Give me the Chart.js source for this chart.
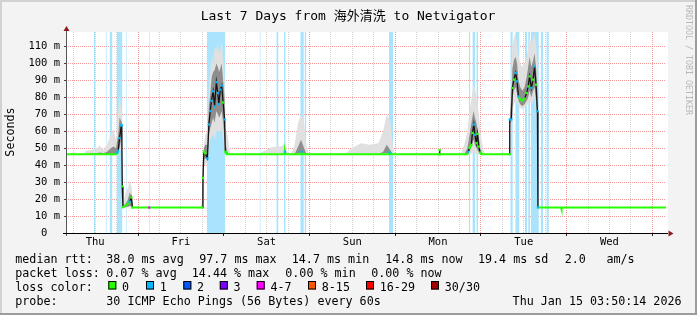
<!DOCTYPE html>
<html><head><meta charset="utf-8">
<script src="https://cdn.jsdelivr.net/npm/chart.js@4/dist/chart.umd.min.js"></script>
<style>html,body{margin:0;padding:0;background:#f3f3f3;}canvas{display:block}</style>
</head><body>
<canvas id="c" width="697" height="315"></canvas>
<script>
// ---------- DATA (hours since Thu 03:50, values in ms) ----------
const dayNames = ['Thu','Fri','Sat','Sun','Mon','Tue','Wed'];
const dayNoonHours = [8.1667, 32.1667, 56.1667, 80.1667, 104.1667, 128.1667, 152.1667];
const midnightHours = [20.1667, 44.1667, 68.1667, 92.1667, 116.1667, 140.1667, 164.1667];
const yTickLabels = ['0  ','10 m','20 m','30 m','40 m','50 m','60 m','70 m','80 m','90 m','100 m','110 m'];
const yLabelValues = [0,10,20,30,40,50,60,70,80,90,100,110];

const medianHours  = [0,14.1,14.4,14.6,15.0,15.5,15.6,15.75,15.95,16.9,17.4,17.8,18.3,18.6,23.2,23.3,23.45,38.2,38.35,38.6,39.0,39.6,40.0,40.4,40.7,41.2,41.6,42.1,42.5,42.8,43.2,43.6,44.0,44.4,44.6,44.9,61.2,61.3,61.45,65.8,65.9,66.0,90.4,90.6,90.8,104.5,104.6,104.7,112.4,112.6,113.0,113.5,113.8,114.2,114.5,114.9,115.2,115.6,115.9,116.3,124.2,124.25,124.7,125.0,125.4,125.9,126.3,126.7,127.2,127.8,128.4,129.0,129.4,129.8,130.3,130.8,131.2,131.6,132.0,132.15,132.6,138.6,138.7,138.8,168];
const medianValues = [46.5,46.5,47.4,48.6,56,63.5,63.5,27.5,15.2,16.5,17.5,18.5,21,15,15,15,15,15,32.5,48,47,44,64,72,78,83.6,74.7,89,82.6,76,84.6,87,77,67,48,46.5,46.5,48,46.5,46.5,48,46.5,46.5,47.5,46.5,46.5,49,46.5,46.5,47.8,50.2,52,59,64,58,53,58.5,51,47.5,46.5,46.5,67,67,85.6,90.5,94.4,89.5,80.6,78.7,78,79.3,82.6,86.5,92.4,85.6,90.5,98.3,87.5,71.8,15.1,15,15,14,15,15];
const medianLoss   = [0,0,1,1,1,1,1,0,0,0,0,1,0,0,0,4,0,0,0,0,0,1,1,1,1,1,1,1,1,1,1,1,0,1,0,0,0,1,0,0,1,0,0,1,0,0,0,0,0,1,0,0,0,1,1,0,0,0,0,0,0,1,1,0,0,1,1,1,0,0,0,0,0,0,1,0,1,0,1,1,0,0,0,0,0];

const smokeHours   = [0,5.0,5.5,7.0,8.5,9.5,10.5,11.5,12.5,13.3,14.0,14.6,15.0,15.5,15.75,15.8,16.5,17.2,17.9,18.4,18.8,19.5,38.0,38.3,38.6,39.0,39.6,40.0,40.4,40.8,41.2,41.6,42.1,42.5,42.9,43.3,43.6,44.0,44.4,44.7,45.2,45.6,46.0,54.0,55.0,57.0,58.5,60.0,61.0,62.0,63.0,64.0,65.0,65.8,66.5,67.3,68.0,78.0,80.0,82.5,85.0,87.5,88.8,89.8,90.8,91.5,92.0,110.5,111.5,112.4,113.0,113.6,114.1,114.5,115.0,115.5,116.0,116.6,117.2,124.1,124.3,124.7,125.0,125.4,125.9,126.3,126.7,127.2,127.8,128.4,129.0,129.4,129.8,130.3,130.8,131.2,131.6,132.0,132.15,133.0,139.0,168];
const smokeOuterLo = [46.5,46.5,46.5,46.5,46.5,46.5,46.5,46.5,46,46,46,46,47,50,50,15,15,15,15,15,15,15,15,15,40,40,42,52,55,57,58,55,60,60,60,60,62,55,48,46.5,46.5,46.5,46.5,46.5,46.5,46.5,46.5,46.5,46.5,46.5,46.5,46.5,46.5,46.5,46.5,46.5,46.5,46.5,46.5,46.5,46.5,46.5,46.5,46.5,46.5,46.5,46.5,46.5,46.5,46.5,46,47,48,47,46.5,46.5,46.5,46.5,46.5,46.5,60,64,72,76,78,77,75,74,73,74,75,76,78,76,78,80,72,62,15,15,14.5,15];
const smokeOuterHi = [46.5,46.5,48.5,49,50,51.5,49,52,58,61,55,70,81,74,70,16,22,26,31,27,16,15,15,36,52,58,60,85,95,105,100,110,108,112,105,110,113,102,90,62,58,52,46.5,46.5,48,50,51,51,52,48,46.5,52,65,69.5,68,52,46.5,46.5,50,53,52,53,60,70,66,52,46.5,46.5,52,60,72,80,88,85,80,72,60,52,46.5,46.5,75,95,110,115,118,112,104,100,98,100,104,110,115,112,115,118,112,100,16,15,15,15];
const smokeInnerLo = [46.5,46.5,46.5,46.5,46.5,46.5,46.5,46.5,46.5,46.5,46.5,47,50,56,55,15,15,15.5,16,16,15,15,15,15,44,44,44,58,62,65,68,65,72,70,68,70,72,65,55,47,46.5,46.5,46.5,46.5,46.5,46.5,46.5,46.5,47,46.5,46.5,46.5,47,47,47,46.5,46.5,46.5,46.5,46.5,46.5,46.5,47,47,47,46.5,46.5,46.5,46.5,46.5,48,52,55,52,50,48,46.5,46.5,46.5,46.5,64,66,80,84,86,82,78,76,75,76,78,80,84,80,84,86,78,66,15,15,15,15];
const smokeInnerHi = [46.5,46.5,46.5,47,47,47.5,47,48,50,51,50,58,68,66,64,15,17,19,24,21,15,15,15,30,50,52,52,75,82,92,95,96,100,98,95,98,100,90,80,52,48,46.5,46.5,46.5,46.5,46.5,46.5,46.5,47.5,46.5,46.5,46.5,51,55,51,46.5,46.5,46.5,46.5,46.5,46.5,46.5,48,52,49,46.5,46.5,46.5,46.5,50,58,66,72,68,64,58,50,46.5,46.5,46.5,70,80,97,102,104,100,90,86,84,86,92,98,104,98,102,106,98,85,15,15,15,15];

const lossStart = [7.8,11.1,12.2,14.2,16.7,23.2,23.4,39.4,54.2,58.9,61.0,65.6,66.8,90.4,112.8,113.8,114.9,124.4,125.8,128.5,129.4,130.2,132.9,134.5];
const lossEnd   = [8.2,11.4,13.0,15.8,17.0,23.4,23.6,44.6,54.5,59.5,61.5,66.6,67.3,91.6,113.2,114.6,115.4,125.1,127.0,129.1,130.0,132.4,133.6,135.2];
const lossLevel = [1,1,1,1,1,4,1,1,1,1,1,1,1,1,1,1,1,1,1,1,1,1,1,1];

const lossColorNames = ['0','1','2','3','4-7','8-15','16-29','30/30'];
const lossColors = ['#26ff00','#00b8ff','#0059ff','#7e00ff','#ff00ff','#ff5500','#ff0000','#a10000'];
const lossBandColors = {1:'rgb(170,228,252)', 4:'rgb(236,186,246)'};

const titleText = 'Last 7 Days from 海外清洗 to Netvigator';
const statRtt  = ['median rtt:','38.0 ms avg','97.7 ms max','14.7 ms min','14.8 ms now','19.4 ms sd','2.0','am/s'];
const statLoss = ['packet loss:','0.07 % avg','14.44 % max','0.00 % min','0.00 % now'];
const probeText = ['probe:','30 ICMP Echo Pings (56 Bytes) every 60s','Thu Jan 15 03:50:14 2026'];

// ---------- layout / style ----------
const MONO = "'DejaVu Sans Mono', 'Noto Sans CJK SC', monospace";
const Y_MAX = 118.6;
const rttX  = [15.3,106.3,199.2,291.8,385.2,478,564.8,606.5];
const lossX = [15.3,106.3,191.8,285.3,371.2];
const boxX  = [108.3,146,183.3,219.8,256.7,308,366,431];
const gridHours = []; for (let h = 2.1667; h < 168; h += 6) gridHours.push(h);
const yGrid = []; for (let v = 0; v <= 115; v += 5) yGrid.push(v);
const isMidnight = v => midnightHours.some(m => Math.abs(m - v) < 0.01);

const pts = (xs, ys) => xs.map((x, i) => ({x, y: ys[i]}));
function bandPoints(level) {
  const out = [];
  lossStart.forEach((s, i) => {
    if (lossLevel[i] !== level) return;
    out.push({x: s, y: Y_MAX}, {x: lossEnd[i], y: Y_MAX}, {x: lossEnd[i], y: null});
  });
  return out;
}
const steep = (a, b) => Math.abs(a - b) > 2.2;

const bgPlugin = {
  id: 'bg',
  beforeDraw(chart) {
    const c = chart.ctx, a = chart.chartArea;
    c.save();
    c.fillStyle = '#f3f3f3'; c.fillRect(0, 0, chart.width, chart.height);
    c.fillStyle = '#ffffff'; c.fillRect(a.left, a.top, a.right - a.left + 2, a.bottom - a.top);
    c.restore();
  },
  afterDraw(chart) {
    const c = chart.ctx, a = chart.chartArea;
    c.save();
    c.strokeStyle = '#555'; c.lineWidth = 1;
    c.beginPath(); c.moveTo(a.left + 0.5, a.bottom + 3); c.lineTo(a.left + 0.5, a.top - 1); c.stroke();
    c.strokeStyle = '#000';
    c.beginPath(); c.moveTo(a.left - 3, a.bottom + 0.5); c.lineTo(a.right + 2, a.bottom + 0.5); c.stroke();
    c.fillStyle = '#8b1a1a';
    c.beginPath(); c.moveTo(a.left + 0.5, a.top - 6); c.lineTo(a.left - 2.5, a.top - 1); c.lineTo(a.left + 3.5, a.top - 1); c.closePath(); c.fill();
    c.beginPath(); c.moveTo(a.right + 7.5, a.bottom + 0.5); c.lineTo(a.right + 2.5, a.bottom - 2.5); c.lineTo(a.right + 2.5, a.bottom + 3.5); c.closePath(); c.fill();
    c.fillStyle = '#000';
    c.font = '13px ' + MONO; c.textAlign = 'center'; c.textBaseline = 'alphabetic';
    c.fillText(titleText, 348, 20);
    c.save(); c.translate(10.5, 132); c.rotate(-Math.PI / 2);
    c.font = '11.7px ' + MONO; c.textBaseline = 'middle'; c.fillText('Seconds', 0, 0); c.restore();
    c.save(); c.translate(688, 5); c.rotate(Math.PI / 2);
    c.font = '8.3px ' + MONO; c.fillStyle = '#b8b8b8'; c.textAlign = 'left'; c.textBaseline = 'middle';
    c.fillText('RRDTOOL / TOBI OETIKER', 0, 0); c.restore();
    c.font = '11.7px ' + MONO; c.textAlign = 'left'; c.textBaseline = 'alphabetic'; c.fillStyle = '#000';
    statRtt.forEach((t, i) => c.fillText(t, rttX[i], 262.7));
    statLoss.forEach((t, i) => c.fillText(t, lossX[i], 276.7));
    c.fillText('loss color:', 15.3, 290.7);
    lossColorNames.forEach((t, i) => {
      c.fillStyle = lossColors[i]; c.fillRect(boxX[i], 281.5, 8, 8);
      c.strokeStyle = '#000'; c.lineWidth = 1; c.strokeRect(boxX[i] + 0.5, 281.5, 7, 7.5);
      c.fillStyle = '#000'; c.fillText(t, boxX[i] + 13.8, 290.7);
    });
    c.fillText(probeText[0], 15.3, 304.7);
    c.fillText(probeText[1], 106.3, 304.7);
    c.textAlign = 'right'; c.fillText(probeText[2], 681.5, 304.7);
    c.fillStyle = '#d2d2d2'; c.fillRect(0, 0, chart.width, 2); c.fillRect(0, 0, 2, chart.height);
    c.fillStyle = '#9c9c9c'; c.fillRect(0, chart.height - 2, chart.width, 2); c.fillRect(chart.width - 2, 0, 2, chart.height);
    c.restore();
  }
};

new Chart(document.getElementById('c'), {
  type: 'line',
  data: {
    datasets: [
      {
        data: pts(medianHours, medianValues),
        borderColor: '#26ff00', borderWidth: 2, fill: false,
        segment: {
          borderColor: s => steep(s.p0.parsed.y, s.p1.parsed.y) ? '#141414' : lossColors[Math.min(medianLoss[s.p0DataIndex], medianLoss[s.p1DataIndex])],
          borderWidth: s => steep(s.p0.parsed.y, s.p1.parsed.y) ? 1.3 : 2
        },
        pointStyle: 'rect',
        pointRadius: c => {
          const i = c.dataIndex, v = medianValues;
          const sp = (i > 0 && steep(v[i], v[i - 1])) || (i < v.length - 1 && steep(v[i], v[i + 1]));
          return (medianLoss[i] > 0 || sp) ? 1.6 : 0;
        },
        pointBackgroundColor: c => lossColors[medianLoss[c.dataIndex]],
        pointBorderWidth: 0
      },
      { data: pts(smokeHours, smokeInnerHi), borderWidth: 0, pointRadius: 0, fill: '+1', backgroundColor: '#8e8e8e' },
      { data: pts(smokeHours, smokeInnerLo), borderWidth: 0, pointRadius: 0, fill: false },
      { data: pts(smokeHours, smokeOuterHi), borderWidth: 0, pointRadius: 0, fill: '+1', backgroundColor: '#e0e0e0' },
      { data: pts(smokeHours, smokeOuterLo), borderWidth: 0, pointRadius: 0, fill: false },
      { data: bandPoints(1), borderWidth: 0, pointRadius: 0, fill: 'origin', backgroundColor: lossBandColors[1] },
      { data: bandPoints(4), borderWidth: 0, pointRadius: 0, fill: 'origin', backgroundColor: lossBandColors[4] }
    ]
  },
  options: {
    responsive: false, animation: false, devicePixelRatio: 1,
    layout: { padding: { left: 0, right: 31, top: 32, bottom: 62 } },
    plugins: { legend: { display: false }, tooltip: { enabled: false }, title: { display: false } },
    elements: { line: { tension: 0 } },
    scales: {
      x: {
        type: 'linear', min: 0, max: 168,
        afterBuildTicks: s => { s.ticks = gridHours.map(v => ({value: v})); },
        afterFit: s => { s.height = 20; },
        grid: {
          color: c => isMidnight(c.tick.value) ? '#f29a9a' : '#d2d2d2',
          lineWidth: 1, tickLength: 3,
          tickColor: c => isMidnight(c.tick.value) ? '#222' : 'rgba(0,0,0,0)'
        },
        border: { display: false, dash: [1, 1] },
        ticks: {
          autoSkip: false, maxRotation: 0, padding: 0, color: '#000',
          font: { family: MONO, size: 10.5 },
          callback: v => { const i = dayNoonHours.findIndex(h => Math.abs(h - v) < 0.01); return i >= 0 ? dayNames[i] : ''; }
        }
      },
      y: {
        min: 0, max: Y_MAX,
        afterBuildTicks: s => { s.ticks = yGrid.map(v => ({value: v})); },
        afterFit: s => { s.width = 66; },
        grid: {
          color: c => c.tick.value === 0 ? 'rgba(0,0,0,0)' : (c.tick.value % 10 === 0 ? '#f29a9a' : '#d2d2d2'),
          lineWidth: 1, tickLength: 2,
          tickColor: c => c.tick.value % 10 === 0 ? '#444' : 'rgba(0,0,0,0)'
        },
        border: { display: false, dash: [1, 1] },
        ticks: {
          padding: 4, color: '#000',
          font: { family: MONO, size: 10.5 },
          callback: v => { const i = yLabelValues.indexOf(v); return i >= 0 ? yTickLabels[i] : ''; }
        }
      }
    }
  },
  plugins: [bgPlugin]
});
</script>
</body></html>
